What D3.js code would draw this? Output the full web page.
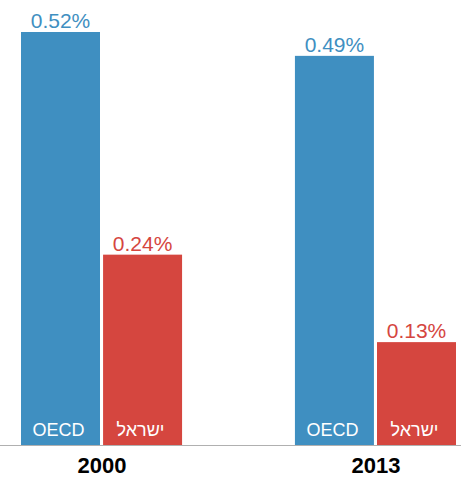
<!DOCTYPE html>
<html>
<head>
<meta charset="utf-8">
<script src="https://cdn.jsdelivr.net/npm/d3@7"></script>
<style>
  body { margin:0; background:#fff; }
  svg { display:block; font-family: "Liberation Sans", Arial, sans-serif; }
</style>
</head>
<body>
<div id="chart"></div>
<script>
// data (percent of GDP)
const years = ["2000", "2013"];
const groups = ["OECD", "ישראל"];
const oecdValues = [0.52, 0.49];
const israelValues = [0.24, 0.13];

const colors = {"OECD": "#3f8fc1", "ישראל": "#d5463f"};

const data = years.map((yr, i) => ({
  year: yr,
  values: [
    {key: "OECD", value: oecdValues[i]},
    {key: "ישראל", value: israelValues[i]}
  ]
}));

const width = 461, height = 477;
const baseY = 445.5;

const svg = d3.select('#chart').append('svg')
  .attr('width', width).attr('height', height);

const x0 = d3.scaleBand().domain(years).range([21, 456]).paddingInner(0.412).paddingOuter(0);
const x1 = d3.scaleBand().domain(groups).range([0, x0.bandwidth()]).paddingInner(0.0375);
const y = d3.scaleLinear().domain([0, 0.52]).range([baseY, 32]);

const g = svg.selectAll('g.year')
  .data(data)
  .enter().append('g')
    .attr('class', 'year')
    .attr('transform', d => `translate(${x0(d.year)},0)`);

g.selectAll('rect')
  .data(d => d.values)
  .enter().append('rect')
    .attr('x', d => x1(d.key))
    .attr('y', d => y(d.value))
    .attr('width', x1.bandwidth())
    .attr('height', d => y(0) - y(d.value))
    .attr('fill', d => colors[d.key]);

// value labels above bars
g.selectAll('text.val')
  .data(d => d.values)
  .enter().append('text')
    .attr('class', 'val')
    .attr('x', d => x1(d.key) + x1.bandwidth() / 2)
    .attr('y', d => y(d.value) - 4)
    .attr('text-anchor', 'middle')
    .attr('font-size', 21)
    .attr('fill', d => colors[d.key])
    .text(d => d.value.toFixed(2) + '%');

// series names inside bars
g.selectAll('text.name')
  .data(d => d.values)
  .enter().append('text')
    .attr('class', 'name')
    .attr('x', d => x1(d.key) + x1.bandwidth() / 2 - 2)
    .attr('y', baseY - 9.5)
    .attr('text-anchor', 'middle')
    .attr('font-size', 18)
    .attr('fill', '#fff')
    .text(d => d.key);

// baseline
svg.append('line')
  .attr('x1', 0).attr('x2', width)
  .attr('y1', baseY).attr('y2', baseY)
  .attr('stroke', '#b0b0b0').attr('stroke-width', 1.2);

// year labels
svg.selectAll('text.yr')
  .data(years)
  .enter().append('text')
    .attr('class', 'yr')
    .attr('x', d => x0(d) + x0.bandwidth() / 2 + 0.5)
    .attr('y', 473)
    .attr('text-anchor', 'middle')
    .attr('font-size', 22)
    .attr('font-weight', 'bold')
    .attr('fill', '#000')
    .text(d => d);
</script>
</body>
</html>
